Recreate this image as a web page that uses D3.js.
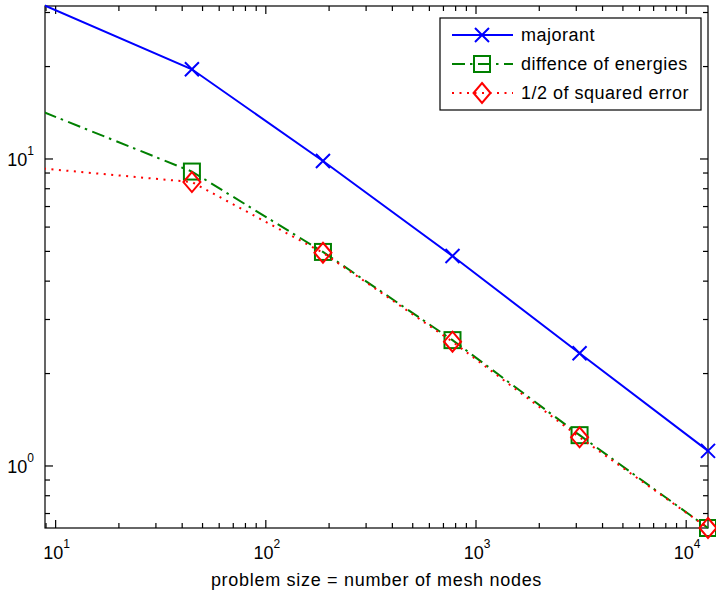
<!DOCTYPE html>
<html>
<head>
<meta charset="utf-8">
<script src="https://cdn.jsdelivr.net/npm/d3@7"></script>
<style>
  body { margin: 0; background: #fff; }
  text { font-family: "Liberation Sans", Arial, sans-serif; fill: #000; }
</style>
</head>
<body>
<svg id="chart" width="716" height="594"></svg>
<script>
// values
const nodes = [8.8, 44.5, 187, 773, 3110, 12700];
const majorant = [31.7, 19.6, 9.85, 4.83, 2.33, 1.12];
const energyDiff = [14.2, 9.1, 4.98, 2.57, 1.26, 0.628];
const halfSqErr = [9.3, 8.41, 4.95, 2.54, 1.24, 0.628];
const xDomain = [8.9, 12700];
const yDomain = [0.628, 31.5];
const seriesNames = ["majorant", "diffence of energies", "1/2 of squared error"];
const xLabel = "problem size = number of mesh nodes";

const plotL = 45, plotR = 708, plotT = 6, plotB = 528;

const svg = d3.select("#chart");
const x = d3.scaleLog().domain(xDomain).range([plotL, plotR]);
const y = d3.scaleLog().domain(yDomain).range([plotB, plotT]);

const styles = [
  {color: "#0000ff", dash: null, marker: "x"},
  {color: "#008000", dash: "13,5,2.5,5.5", marker: "square"},
  {color: "#ff0000", dash: "2,5.5", marker: "diamond"}
];
const series = [majorant, energyDiff, halfSqErr];

function isMajor(v){
  const l = Math.log10(v);
  return Math.abs(l - Math.round(l)) < 1e-9;
}

svg.append("clipPath").attr("id", "plotclip")
   .append("rect")
   .attr("x", plotL).attr("y", plotT - 2)
   .attr("width", plotR - plotL + 2).attr("height", plotB - plotT + 4);

// axes box
svg.append("rect")
   .attr("x", plotL).attr("y", plotT)
   .attr("width", plotR - plotL).attr("height", plotB - plotT)
   .style("fill", "none").style("stroke", "#000").style("stroke-width", 1.2);

// ticks on all four sides, pointing inward
const g = svg.append("g").style("stroke", "#000").style("stroke-width", 1.2);
x.ticks().forEach(function(t){
  const len = isMajor(t) ? 8 : 5;
  const px = x(t);
  g.append("line").attr("x1", px).attr("x2", px).attr("y1", plotB).attr("y2", plotB - len);
  g.append("line").attr("x1", px).attr("x2", px).attr("y1", plotT).attr("y2", plotT + len);
});
y.ticks().forEach(function(t){
  const len = isMajor(t) ? 8 : 5;
  const py = y(t);
  g.append("line").attr("x1", plotL).attr("x2", plotL + len).attr("y1", py).attr("y2", py);
  g.append("line").attr("x1", plotR).attr("x2", plotR - len).attr("y1", py).attr("y2", py);
});

// tick labels 10^n
function powLabel(sel, e){
  sel.append("tspan").text("10").style("font-size", "18px");
  sel.append("tspan").text(e).attr("dy", -11).style("font-size", "12px");
}
x.ticks().filter(isMajor).forEach(function(t){
  const lab = svg.append("text")
     .attr("x", x(t) + 1).attr("y", 559)
     .attr("text-anchor", "middle");
  powLabel(lab, Math.round(Math.log10(t)));
});
y.ticks().filter(isMajor).forEach(function(t){
  const lab = svg.append("text")
     .attr("x", 34).attr("y", y(t) + 7)
     .attr("text-anchor", "end");
  powLabel(lab, Math.round(Math.log10(t)));
});

svg.append("text")
   .attr("x", (plotL + plotR) / 2).attr("y", 586)
   .attr("text-anchor", "middle")
   .style("font-size", "18px").style("letter-spacing", "0.7px")
   .text(xLabel);

function drawMarker(sel, kind, cx, cy, color){
  if (kind === "x") {
    const s = 7;
    sel.append("path")
       .attr("d", `M${cx - s},${cy - s}L${cx + s},${cy + s}M${cx - s},${cy + s}L${cx + s},${cy - s}`)
       .style("stroke", color).style("stroke-width", 2).style("fill", "none");
  } else if (kind === "square") {
    sel.append("rect")
       .attr("x", cx - 8).attr("y", cy - 8).attr("width", 16).attr("height", 16)
       .style("stroke", color).style("stroke-width", 2).style("fill", "none");
  } else {
    sel.append("path")
       .attr("d", `M${cx},${cy - 10}L${cx + 8.5},${cy}L${cx},${cy + 10}L${cx - 8.5},${cy}Z`)
       .style("stroke", color).style("stroke-width", 2).style("fill", "none");
  }
}

const line = d3.line().x(function(d, i){ return x(nodes[i]); }).y(function(d){ return y(d); });

series.forEach(function(vals, k){
  const st = styles[k];
  svg.append("path")
     .datum(vals)
     .attr("d", line)
     .attr("clip-path", "url(#plotclip)")
     .style("fill", "none")
     .style("stroke", st.color)
     .style("stroke-width", 2)
     .style("stroke-dasharray", st.dash);
  // markers whose centre falls outside the axes are not drawn
  vals.forEach(function(v, i){
    if (nodes[i] < xDomain[0]) return;
    drawMarker(svg, st.marker, x(nodes[i]), y(v), st.color);
  });
});

// legend
const lg = svg.append("g");
lg.append("rect")
  .attr("x", 440).attr("y", 18).attr("width", 261).attr("height", 92)
  .style("fill", "#fff").style("stroke", "#000").style("stroke-width", 1.2);
seriesNames.forEach(function(name, k){
  const st = styles[k];
  const ry = 35 + k * 29;
  lg.append("line")
    .attr("x1", 452).attr("x2", 513).attr("y1", ry).attr("y2", ry)
    .style("stroke", st.color).style("stroke-width", 2)
    .style("stroke-dasharray", st.dash);
  drawMarker(lg, st.marker, 482, ry, st.color);
  lg.append("text")
    .attr("x", 521).attr("y", ry + 6)
    .style("font-size", "18px").style("letter-spacing", "0.5px")
    .text(name);
});
</script>
</body>
</html>
